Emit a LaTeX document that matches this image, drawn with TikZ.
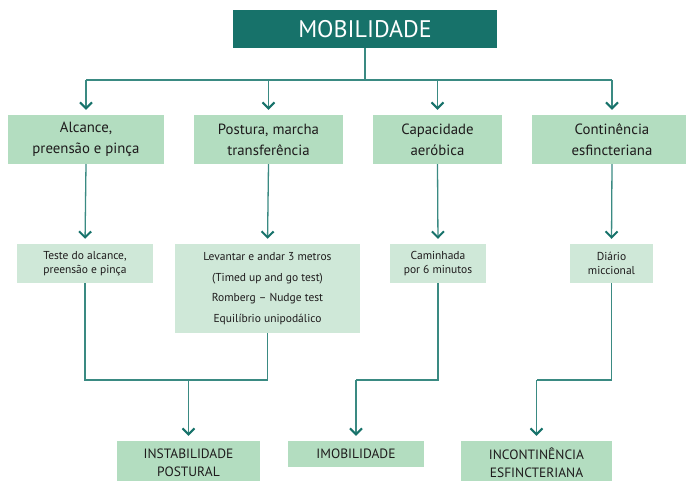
\documentclass[tikz,border=0pt]{standalone}
\usepackage{fontspec}
\setmainfont{PT Sans}
\usepackage{tikz}
\usetikzlibrary{arrows.meta, positioning}
\definecolor{tealdark}{HTML}{17726A}
\definecolor{tealline}{HTML}{3A8A82}
\definecolor{greenmid}{HTML}{B3DDC0}
\definecolor{greenlight}{HTML}{CFE8D8}
\definecolor{textgray}{HTML}{1E1B1C}

\begin{document}
\begin{tikzpicture}[
  x=1pt, y=-1pt,
  topbox/.style={fill=tealdark, text=white, minimum width=264pt, minimum height=38pt, font=\fontsize{24}{28}\selectfont},
  catbox/.style={fill=greenmid, text=textgray, minimum height=49pt, align=center, font=\fontsize{14.8}{21}\selectfont},
  testbox/.style={fill=greenlight, text=textgray, minimum height=39pt, align=center, font=\fontsize{11.5}{14.5}\selectfont},
  resbox/.style={fill=greenmid, text=textgray, align=center, font=\fontsize{13.5}{18}\selectfont},
  line/.style={draw=tealline, line width=1.3pt},
  arr/.style={line, -{Straight Barb[length=6pt, width=12pt, line width=2pt, color=tealdark]}, shorten >=5pt}
]
\useasboundingbox (0,0) rectangle (686,481);

\node[topbox] (mob) at (365,29) {MOBILIDADE};

\node[catbox, minimum width=156pt] (alc) at (86,139.5) {Alcance,\\preensão e pinça};
\node[catbox, minimum width=149pt] (pos) at (268.5,139.5) {Postura, marcha\\transferência};
\node[catbox, minimum width=129pt] (cap) at (437.5,139.5) {Capacidade\\aeróbica};
\node[catbox, minimum width=160pt] (con) at (612,139.5) {Continência\\esfincteriana};

\node[testbox, minimum width=136pt] (tst) at (85,263.5) {Teste do alcance,\\preensão e pinça};
\node[testbox, minimum width=185pt, minimum height=89pt] (lev) at (267.5,288.5)
  {Levantar e andar 3 metros\\[6pt](Timed up and go test)\\[6pt]Romberg -- Nudge test\\[6pt]Equilíbrio unipodálico};
\node[testbox, minimum width=96pt] (cam) at (438,263.5) {Caminhada\\por 6 minutos};
\node[testbox, minimum width=83pt] (dia) at (611.5,263.5) {Diário\\miccional};

\node[resbox, minimum width=143pt, minimum height=44pt] (ins) at (188.5,463) {INSTABILIDADE\\POSTURAL};
\node[resbox, minimum width=136pt, minimum height=26pt] (imo) at (356,454) {IMOBILIDADE};
\node[resbox, minimum width=151pt, minimum height=44pt] (inc) at (536.5,463) {INCONTINÊNCIA\\ESFINCTERIANA};

% top level to categories
\coordinate (hub) at (365,80);
\draw[line] (mob.south) -- (hub);
\draw[line] (alc.north |- hub) -- (con.north |- hub);
\foreach \n in {alc,pos,cap,con}
  \draw[arr] (\n.north |- hub) -- (\n.north);

% categories to tests
\draw[arr] (alc.south) -- (tst.north);
\draw[arr] (pos.south) -- (lev.north);
\draw[arr] (cap.south) -- (cam.north);
\draw[arr] (con.south) -- (dia.north);

% tests to results
\coordinate (j1) at (188.5,380);
\coordinate (j2) at (356,380);
\coordinate (j3) at (536.5,380);
\draw[line] (tst.south) |- (j1) -| (lev.south);
\draw[arr] (j1) -- (ins.north);
\draw[line] (cam.south) |- (j2);
\draw[arr] (j2) -- (imo.north);
\draw[line] (dia.south) |- (j3);
\draw[arr] (j3) -- (inc.north);
\end{tikzpicture}
\end{document}
